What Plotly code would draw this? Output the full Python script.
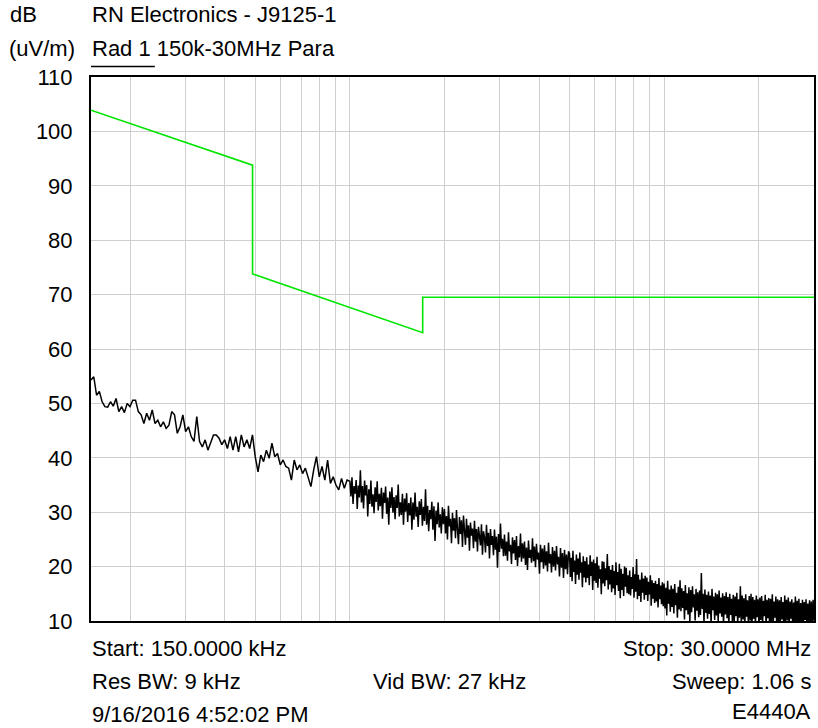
import numpy as np
import plotly.graph_objects as go

# ---------------- data ----------------
seg_edges_mhz = [0.15, 1.0, 2.0, 5.0, 10.0, 30.0]

noise_150k_1m = [
    54.3, 54.9, 51.5, 52.2, 50.3, 49.4, 49.3, 50.3, 49.5, 50.9,
    48.5, 49.4, 48.3, 50.0, 49.4, 50.6, 50.6, 48.5, 47.9, 46.3,
    48.2, 46.9, 48.8, 46.3, 46.9, 45.7, 46.6, 45.4, 46.0, 48.5,
    47.9, 44.5, 45.7, 47.9, 44.8, 45.7, 43.9, 43.0, 47.6, 43.0,
    42.0, 43.3, 41.4, 43.0, 44.2,
    44.2, 43.6, 42.4, 43.3, 41.7, 43.9, 41.4, 43.9, 41.1, 44.2,
    42.0, 43.3, 41.7, 44.2, 40.2, 37.4, 40.5, 39.3, 41.4, 39.9,
    42.7, 40.2, 40.8, 38.7, 39.6, 38.4, 38.1, 35.9, 39.6, 37.8,
    38.7, 37.1, 38.1, 36.5, 34.7, 37.8, 40.2, 36.5, 38.4, 35.9,
    39.6, 35.3, 36.5, 35.0, 34.1, 36.2, 34.4, 35.9,
]

noise_1m_2m = [
    35.7, 32.9, 36.4, 31.5, 34.8, 33.4, 35.9, 30.6, 34.9, 32.7,
    37.7, 31.8, 34.8, 30.7, 35.8, 33.1, 35.0, 29.2, 34.2, 31.5,
    35.8, 31.0, 33.3, 29.8, 34.6, 31.9, 35.7, 30.3, 33.4, 31.1,
    34.5, 28.8, 33.6, 31.7, 34.7, 29.7, 32.7, 27.7, 33.8, 30.8,
    34.6, 29.9, 32.8, 28.7, 33.1, 30.8, 35.1, 29.2, 31.8, 29.5,
    33.4, 27.7, 32.5, 30.1, 33.5, 28.2, 31.7, 29.4, 32.7, 26.8,
    31.8, 28.6, 33.6, 29.2, 31.0, 27.3, 32.0, 29.5, 32.4, 27.5,
    31.0, 28.4, 34.2, 27.7, 31.2, 26.5, 30.4, 28.7, 31.9, 26.8,
    31.1, 24.7, 30.3, 27.8, 31.8, 27.2, 29.6, 26.1, 30.9, 27.8,
]

noise_2m_5m = [
    30.6, 26.1, 29.3, 25.0, 31.2, 27.4, 28.8, 24.3, 29.9, 26.6,
    28.9, 25.2, 30.4, 26.8, 24.1, 29.1, 26.0, 28.5, 23.6, 29.4,
    27.2, 24.0, 28.8, 25.3, 27.6, 22.9, 28.1, 25.7, 27.0, 23.4,
    28.4, 24.6, 26.9, 22.8, 27.3, 25.1, 23.9, 27.8, 22.2, 26.5,
    25.4, 22.6, 27.7, 23.8, 26.2, 21.5, 26.9, 24.0, 25.6, 22.1,
    26.8, 23.1, 25.5, 19.8, 26.0, 22.7, 27.9, 23.3, 25.1, 21.9,
    25.9, 22.0, 24.6, 21.1, 26.3, 22.8, 24.0, 20.5, 25.4, 22.4,
    24.9, 21.2, 25.6, 20.1, 23.8, 21.7, 26.1, 20.9, 24.3, 21.5,
    24.6, 20.3, 23.5, 19.4, 24.8, 21.6, 23.1, 20.7, 25.2, 21.0,
    23.7, 19.9, 24.2, 21.3, 22.6, 18.7, 24.0, 20.8, 23.3, 19.6,
    23.9, 20.2, 22.8, 19.1, 24.4, 20.6, 22.3, 18.9, 23.6, 20.0,
    22.9, 19.3, 23.8, 20.4, 21.8, 18.2, 23.4, 19.8, 22.5, 17.9,
    23.1, 19.5, 22.2, 18.6, 22.8,
]

noise_5m_10m = [
    22.4, 18.1, 21.6, 17.3, 22.9, 19.0, 21.1, 16.8, 22.2, 18.5,
    21.5, 17.6, 22.6, 18.9, 20.8, 16.2, 21.9, 18.0, 21.0, 17.1,
    21.7, 17.9, 20.4, 16.6, 22.1, 18.3, 20.9, 15.7, 21.3, 17.4,
    20.6, 17.0, 21.8, 16.1, 20.2, 17.8, 19.5, 14.9, 21.0, 16.9,
    20.9, 16.4, 19.7, 17.5, 22.3, 15.8, 20.1, 16.7, 19.4, 15.3,
    20.3, 16.0, 19.2, 14.8, 20.8, 16.6, 19.0, 15.5, 20.5, 14.2,
    19.6, 15.7, 18.7, 14.6, 20.0, 16.3, 19.8, 15.1, 18.4, 14.9,
    19.3, 14.7, 18.1, 15.9, 19.9, 14.3, 18.6, 15.4, 21.4, 14.0,
    18.5, 14.6, 17.6, 13.5, 18.9, 15.2, 17.8, 13.9, 18.3, 14.8,
    18.0, 13.7, 17.2, 14.9, 18.4, 12.8, 17.5, 14.1, 17.0, 13.3,
    17.4, 13.6, 16.8, 12.5, 17.9, 14.0, 16.5, 13.1, 17.1, 12.7,
]

noise_10m_30m = [
    16.9, 12.3, 16.1, 11.0, 17.4, 13.2, 15.8, 11.7, 16.5, 12.6,
    15.9, 11.4, 16.8, 12.9, 15.2, 10.6, 16.3, 12.1, 17.5, 11.8,
    16.0, 12.4, 15.5, 10.3, 16.6, 12.0, 15.1, 11.2, 16.2, 9.8,
    15.7, 11.6, 16.4, 12.5, 14.9, 10.1, 15.9, 11.9, 15.3, 10.7,
    15.6, 11.1, 18.8, 12.2, 15.0, 9.6, 15.8, 11.5, 14.8, 10.4,
    15.4, 11.3, 14.7, 9.4, 15.9, 12.0, 14.5, 10.2, 15.2, 11.0,
    14.9, 9.9, 15.6, 11.4, 14.3, 10.8, 15.1, 9.2, 14.6, 11.2,
    15.3, 10.5, 14.4, 9.0, 15.0, 11.1, 14.1, 10.0, 14.8, 9.5,
    14.5, 10.9, 15.2, 9.3, 14.0, 10.6, 16.4, 9.7, 14.7, 10.3,
    14.2, 9.1, 14.9, 10.8, 13.8, 9.6, 14.6, 10.1, 15.0, 8.8,
    14.4, 10.4, 13.9, 9.2, 14.7, 10.7, 14.0, 8.9, 14.3, 10.2,
    14.6, 9.4, 13.7, 10.9, 14.8, 9.0, 13.9, 10.5, 14.2, 8.7,
    14.1, 10.0, 14.9, 9.3, 13.6, 10.6, 14.5, 8.8, 14.0, 9.9,
    13.8, 9.5, 14.4, 10.3, 13.5, 8.6, 14.7, 9.8, 13.9, 10.1,
    14.3, 9.0, 13.6, 10.4, 14.0, 8.9, 13.4, 9.7, 14.5, 9.2,
    13.7, 10.0, 14.1, 8.5, 13.3, 9.6, 13.9, 9.1, 13.5, 10.2,
    14.0, 8.8, 13.2, 9.9, 13.8, 9.3, 13.6, 8.4, 13.9, 10.1,
]

limit_freq_mhz = [0.15, 0.49, 0.49, 1.705, 1.705, 30.0]
limit_dbuv = [103.9, 93.8, 73.8, 63.0, 69.5, 69.5]

y_ticks = [10, 20, 30, 40, 50, 60, 70, 80, 90, 100, 110]
grid_freqs_mhz = [0.2, 0.3, 0.4, 0.5, 0.6, 0.7, 0.8, 0.9,
                  1, 2, 3, 4, 5, 6, 7, 8, 9, 10, 20]

# --------------- build trace ---------------
segments = [noise_150k_1m, noise_1m_2m, noise_2m_5m, noise_5m_10m, noise_10m_30m]
freqs, vals = [], []
for i, seg in enumerate(segments):
    last = (i == len(segments) - 1)
    f = np.geomspace(seg_edges_mhz[i], seg_edges_mhz[i + 1], len(seg), endpoint=last)
    freqs.extend(f.tolist())
    vals.extend(seg)

FONT = "Liberation Sans, Arial, Helvetica, sans-serif"
W, H = 818, 728
L, R, T, B = 91, 816, 77, 621

fig = go.Figure()
fig.add_trace(go.Scatter(x=limit_freq_mhz, y=limit_dbuv, mode="lines",
                         line=dict(color="#00e600", width=1.6), hoverinfo="skip"))
fig.add_trace(go.Scatter(x=freqs, y=vals, mode="lines",
                         line=dict(color="black", width=1.5), hoverinfo="skip"))


def px(xp):
    return (xp - L) / (R - L)


def py(yp):
    return (B - yp) / (B - T)


texts = [
    ("dB", 9, 15, "left"),
    ("RN Electronics - J9125-1", 91, 15, "left"),
    ("(uV/m)", 8, 48, "left"),
    ("Rad 1 150k-30MHz Para", 91, 48, "left"),
    ("Start: 150.0000 kHz", 91, 648, "left"),
    ("Res BW: 9 kHz", 91, 681, "left"),
    ("9/16/2016 4:52:02 PM", 91, 714, "left"),
    ("Vid BW: 27 kHz", 450, 681, "center"),
    ("Stop: 30.0000 MHz", 814, 648, "right"),
    ("Sweep: 1.06 s", 814, 681, "right"),
    ("E4440A", 814, 711, "right"),
]
annotations = []
for t, xp, yp, anc in texts:
    annotations.append(dict(text=t, x=px(xp), y=py(yp), xref="paper", yref="paper",
                            xanchor=anc, yanchor="middle", showarrow=False,
                            borderpad=0, font=dict(family=FONT, size=22, color="black")))

shapes = [dict(type="line", xref="paper", yref="paper",
               x0=px(91), x1=px(155), y0=py(66.5), y1=py(66.5),
               line=dict(color="black", width=1.3))]

fig.update_layout(
    width=W, height=H,
    margin=dict(l=L, r=W - R, t=T, b=H - B, pad=0),
    paper_bgcolor="white", plot_bgcolor="white",
    showlegend=False,
    annotations=annotations,
    shapes=shapes,
    font=dict(family=FONT, size=22, color="black"),
    xaxis=dict(type="log", range=[np.log10(0.15), np.log10(30)],
               tickvals=grid_freqs_mhz, showticklabels=False,
               showgrid=True, gridcolor="#cfcfcf", gridwidth=1,
               showline=True, linecolor="black", linewidth=2, mirror=True,
               zeroline=False, ticks=""),
    yaxis=dict(range=[10, 110], tickvals=y_ticks,
               showgrid=True, gridcolor="#cfcfcf", gridwidth=1,
               showline=True, linecolor="black", linewidth=2, mirror=True,
               zeroline=False, ticks="", ticklabelstandoff=12,
               tickfont=dict(family=FONT, size=22, color="black")),
)

fig.write_html(
    "out.html",
    config={"displayModeBar": False},
    post_script="document.body.style.margin='0';document.body.style.padding='0';",
)
